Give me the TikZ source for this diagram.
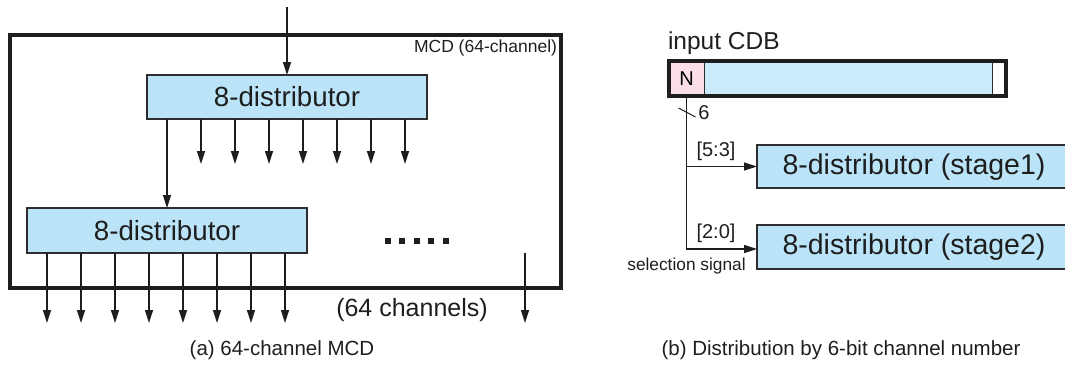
\documentclass[tikz,border=0pt]{standalone}
\usepackage{fontspec}
\setmainfont{Liberation Sans}
\usetikzlibrary{arrows.meta,calc}

\definecolor{distblue}{RGB}{187,228,248}
\definecolor{cdbblue}{RGB}{202,235,250}
\definecolor{npink}{RGB}{250,222,232}
\definecolor{edgegray}{RGB}{45,45,45}
\definecolor{inkdark}{RGB}{30,30,30}

\newcommand{\myfs}[1]{\fontsize{#1}{#1}\selectfont}

\tikzset{
  distbox/.style={draw=edgegray, line width=1.4pt, fill=distblue,
    inner sep=0pt, outer sep=0pt, anchor=north west, text=inkdark},
  frame/.style={draw=inkdark, line width=3.8pt, inner sep=0pt, outer sep=0pt},
  sig/.style={draw=inkdark, line width=1.3pt,
    -{Triangle[length=13pt,width=8pt]}},
  lbl/.style={inner sep=0pt, outer sep=0pt, text=inkdark},
  cell/.style={inner sep=0pt, outer sep=0pt, anchor=north west, draw=edgegray,
    line width=1pt}
}

\begin{document}
\begin{tikzpicture}[x=1pt,y=-1pt]
\useasboundingbox (0,0) rectangle (1065,365);

% ---------------- (a) 64-channel MCD ----------------
\node[frame, anchor=north west, minimum width=551pt, minimum height=253pt]
  (mcd) at (10,35) {};
\node[lbl, anchor=east] (mcdlbl) at (557,48) {\myfs{17.5}MCD (64-channel)};

\node[distbox, minimum width=280pt, minimum height=44pt] (d1) at (147,75)
  {\myfs{27.7}8-distributor};
\node[distbox, minimum width=280pt, minimum height=45pt] (d2) at (27,208)
  {\myfs{27.7}8-distributor};

\coordinate (in) at (287,7);
\draw[sig] (in) -- (d1.north);
\draw[sig] (d1.south -| d2.north) -- (d2.north);

% seven local outputs of the first stage
\foreach \k in {1,...,7}
  \draw[sig] ($(d1.south west)+(20+34*\k,0)$) -- ++(0,45);

% eight outputs of the second stage
\foreach \k in {0,...,7}
  \draw[sig] ($(d2.south west)+(20+34*\k,0)$) -- ++(0,70);

% the last of the 64 channels
\coordinate (last) at (525,253);
\draw[sig] (last) -- ++(0,70);

% ellipsis of the remaining distributors
\foreach \k in {0,...,4}
  \fill[inkdark] (384.5+14.6*\k,238) rectangle ++(6,6);

\node[lbl] (nch) at (412,310) {\myfs{25}(64 channels)};
\node[lbl] (capa) at (282,350) {\myfs{20.5}(a) 64-channel MCD};

% ---------------- (b) distribution by channel number ----------------
\node[lbl, anchor=base west] (cdblbl) at (668,49) {\myfs{24.5}input CDB};

\node[cell, fill=npink, minimum width=35pt, minimum height=35pt] (n)
  at (669,61) {\myfs{20}N};
\node[cell, fill=cdbblue, minimum width=288pt, minimum height=35pt] (body)
  at (704,61) {};
\node[cell, fill=white, minimum width=14pt, minimum height=35pt] (tail)
  at (992,61) {};
\draw[draw=inkdark, line width=3.8pt] (n.north west) rectangle (tail.south east);

\node[distbox, minimum width=320pt, minimum height=43pt] (s1) at (757,145) {};
\node[lbl] at (914,167) {\myfs{28.5}8-distributor (stage1)};
\node[distbox, minimum width=320pt, minimum height=44pt] (s2) at (757,225) {};
\node[lbl] at (914,247) {\myfs{28.5}8-distributor (stage2)};

\draw[sig] (n.south) |- ($(s2.west)+(0,2)$);
\draw[sig] (n.south |- s1.west) -- (s1.west);

% bus-width mark on the selection wire
\draw[draw=inkdark, line width=1pt] ($(n.south)+(-8,12)$) -- ++(17,9);
\node[lbl] (six) at (704,112.5) {\myfs{20}6};

\node[lbl] (hi) at (716,151) {\myfs{20}[5:3]};
\node[lbl] (lo) at (716,233) {\myfs{20}[2:0]};
\node[lbl, anchor=base] (sel) at (686.5,270) {\myfs{17.3}selection signal};

\node[lbl] (capb) at (841,350) {\myfs{20.5}(b) Distribution by 6-bit channel number};
\end{tikzpicture}
\end{document}
